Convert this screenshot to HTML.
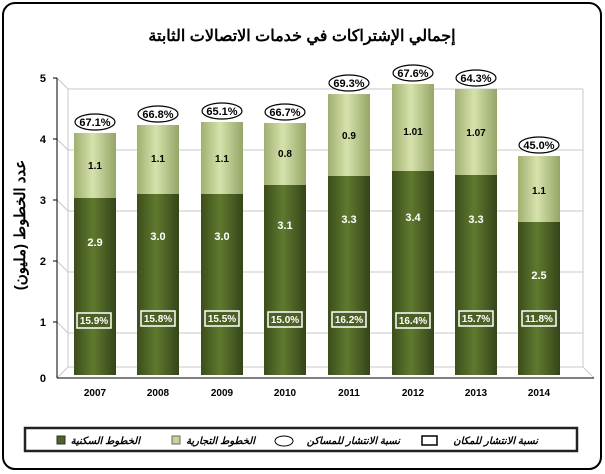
<!DOCTYPE html>
<html><head><meta charset="utf-8"><style>
body{margin:0;background:#fff;}
svg{display:block;font-family:"Liberation Sans","Noto Sans CJK SC",sans-serif;}
</style></head><body>
<svg width="605" height="474" viewBox="0 0 605 474">
<defs>
<linearGradient id="dk" x1="0" x2="1" y1="0" y2="0">
<stop offset="0" stop-color="#3c4d1b"/><stop offset="0.45" stop-color="#5f7a2e"/><stop offset="1" stop-color="#34441a"/>
</linearGradient>
<linearGradient id="lt" x1="0" x2="1" y1="0" y2="0">
<stop offset="0" stop-color="#9fb070"/><stop offset="0.45" stop-color="#d6e2ac"/><stop offset="1" stop-color="#94a566"/>
</linearGradient>
</defs>
<rect x="3" y="3" width="598" height="466" rx="12" fill="#fff" stroke="#000" stroke-width="2"/>
<text x="302" y="41" text-anchor="middle" font-size="16" font-weight="bold">إجمالي الإشتراكات في خدمات الاتصالات الثابتة</text>
<g stroke="#c8c8c8" fill="none">
<line x1="68" y1="89" x2="583" y2="89"/><line x1="68" y1="150" x2="583" y2="150"/><line x1="68" y1="211" x2="583" y2="211"/><line x1="68" y1="272" x2="583" y2="272"/><line x1="68" y1="333" x2="583" y2="333"/><line x1="68" y1="367" x2="583" y2="367"/>
<line x1="68" y1="89" x2="68" y2="367"/><line x1="583" y1="89" x2="583" y2="367"/>
<line x1="57" y1="78" x2="68" y2="89"/><line x1="57" y1="139" x2="68" y2="150"/><line x1="57" y1="200" x2="68" y2="211"/><line x1="57" y1="261" x2="68" y2="272"/><line x1="57" y1="322" x2="68" y2="333"/><line x1="57" y1="378" x2="68" y2="367"/><line x1="583" y1="367" x2="594" y2="378"/>
</g>
<g stroke="#000"><line x1="57" y1="78" x2="57" y2="378"/><line x1="57" y1="378" x2="594" y2="378"/>
<line x1="53" y1="78" x2="57" y2="78"/><line x1="53" y1="139" x2="57" y2="139"/><line x1="53" y1="200" x2="57" y2="200"/><line x1="53" y1="261" x2="57" y2="261"/><line x1="53" y1="322" x2="57" y2="322"/>
</g>
<g font-size="11" font-weight="bold" text-anchor="end">
<text x="46" y="82">5</text><text x="46" y="143">4</text><text x="46" y="204">3</text><text x="46" y="265">2</text><text x="46" y="326">1</text><text x="46" y="382">0</text></g>
<text transform="translate(25,225) rotate(-90)" text-anchor="middle" font-size="15" font-weight="bold">عدد الخطوط (مليون)</text>

<!-- bars -->
<g>
<rect x="74" y="198" width="42" height="177" fill="url(#dk)"/><rect x="74" y="133" width="42" height="65" fill="url(#lt)"/>
<rect x="137" y="194" width="42" height="181" fill="url(#dk)"/><rect x="137" y="125" width="42" height="69" fill="url(#lt)"/>
<rect x="201" y="194" width="42" height="181" fill="url(#dk)"/><rect x="201" y="122" width="42" height="72" fill="url(#lt)"/>
<rect x="264" y="185" width="42" height="190" fill="url(#dk)"/><rect x="264" y="123" width="42" height="62" fill="url(#lt)"/>
<rect x="328" y="176" width="42" height="199" fill="url(#dk)"/><rect x="328" y="94" width="42" height="82" fill="url(#lt)"/>
<rect x="392" y="171" width="42" height="204" fill="url(#dk)"/><rect x="392" y="84" width="42" height="87" fill="url(#lt)"/>
<rect x="455" y="175" width="42" height="200" fill="url(#dk)"/><rect x="455" y="89" width="42" height="86" fill="url(#lt)"/>
<rect x="518" y="222" width="42" height="153" fill="url(#dk)"/><rect x="518" y="156" width="42" height="66" fill="url(#lt)"/>
</g>
<g font-size="10" font-weight="bold" text-anchor="middle">
<text x="95" y="169">1.1</text><text x="158" y="162">1.1</text><text x="222" y="162">1.1</text><text x="285" y="157">0.8</text><text x="349" y="139">0.9</text><text x="413" y="135">1.01</text><text x="476" y="136">1.07</text><text x="539" y="194">1.1</text>
</g>
<g font-size="11" font-weight="bold" text-anchor="middle" fill="#fff">
<text x="95" y="246">2.9</text><text x="158" y="240">3.0</text><text x="222" y="240">3.0</text><text x="285" y="229">3.1</text><text x="349" y="223">3.3</text><text x="413" y="221">3.4</text><text x="476" y="223">3.3</text><text x="539" y="279">2.5</text>
</g>
<g fill="#fff" stroke="#000" stroke-width="1.2">
<ellipse cx="95" cy="122" rx="20" ry="8"/><ellipse cx="158" cy="114" rx="20" ry="8"/><ellipse cx="222" cy="111" rx="20" ry="8"/><ellipse cx="285" cy="112" rx="20" ry="8"/><ellipse cx="349" cy="83" rx="20" ry="8"/><ellipse cx="413" cy="73" rx="20" ry="8"/><ellipse cx="476" cy="78" rx="20" ry="8"/><ellipse cx="539" cy="145" rx="20" ry="8"/>
</g>
<g font-size="11" font-weight="bold" text-anchor="middle">
<text x="95" y="126">67.1%</text><text x="158" y="118">66.8%</text><text x="222" y="115">65.1%</text><text x="285" y="116">66.7%</text><text x="349" y="87">69.3%</text><text x="413" y="77">67.6%</text><text x="476" y="82">64.3%</text><text x="539" y="149">45.0%</text>
</g>
<g fill="#4b6024" stroke="#fff" stroke-width="1.5">
<rect x="77" y="313" width="34" height="15"/><rect x="141" y="311" width="34" height="15"/><rect x="205" y="311" width="34" height="15"/><rect x="268" y="312" width="34" height="15"/><rect x="332" y="312" width="34" height="15"/><rect x="396" y="313" width="34" height="15"/><rect x="459" y="311" width="34" height="15"/><rect x="522" y="311" width="34" height="15"/>
</g>
<g font-size="10" font-weight="bold" text-anchor="middle" fill="#fff">
<text x="94" y="324">15.9%</text><text x="158" y="322">15.8%</text><text x="222" y="322">15.5%</text><text x="285" y="323">15.0%</text><text x="349" y="323">16.2%</text><text x="413" y="324">16.4%</text><text x="476" y="322">15.7%</text><text x="539" y="322">11.8%</text>
</g>
<g font-size="10" font-weight="bold" text-anchor="middle">
<text x="95" y="396">2007</text><text x="158" y="396">2008</text><text x="222" y="396">2009</text><text x="285" y="396">2010</text><text x="349" y="396">2011</text><text x="413" y="396">2012</text><text x="476" y="396">2013</text><text x="539" y="396">2014</text></g>
<rect x="25" y="428" width="552" height="23" fill="#fff" stroke="#222" stroke-width="2.5"/>
<g font-size="10" font-weight="bold" font-style="italic" text-anchor="end">
<text x="538" y="444">نسبة الانتشار للمكان</text><rect x="422" y="436" width="15" height="9" fill="#fff" stroke="#000" stroke-width="1.5"/>
<text x="400" y="444">نسبة الانتشار للمساكن</text><ellipse cx="284" cy="441" rx="9" ry="5" fill="#fff" stroke="#000"/>
<text x="255" y="444">الخطوط التجارية</text><rect x="172" y="436" width="8" height="8" fill="#c7d59a" stroke="#666"/>
<text x="140" y="444">الخطوط السكنية</text><rect x="57" y="436" width="8" height="8" fill="#4e6325" stroke="#333"/>
</g>
</svg>
</body></html>
